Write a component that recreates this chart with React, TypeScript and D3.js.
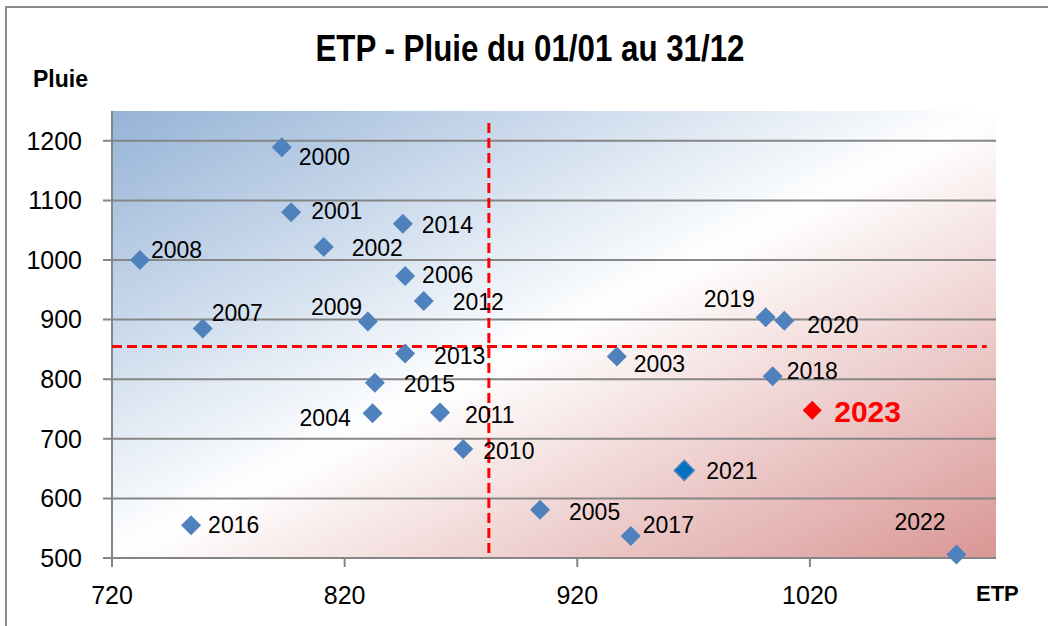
import React from "react";
import * as d3 from "d3";

// ---- Data ----
const years = ["2000","2001","2002","2003","2004","2005","2006","2007","2008","2009","2010","2011","2012","2013","2014","2015","2016","2017","2018","2019","2020","2021","2022"];
const etp = [793, 797, 811, 937, 832, 904, 846, 759, 732, 830, 871, 861, 854, 846, 845, 833, 754, 943, 1004, 1001, 1009, 966, 1083];
const pluie = [1189, 1080, 1022, 838, 743, 581, 973, 885, 1000, 897, 683, 744, 931, 843, 1061, 794, 555, 537, 805, 904, 898, 647, 506];
const highlightYear = "2023";
const highlightEtp = 1021;
const highlightPluie = 748;
const meanEtp = 882;
const meanPluie = 855;
const xTicks = [720, 820, 920, 1020];
const yTicks = [500, 600, 700, 800, 900, 1000, 1100, 1200];

// label offsets (presentation)
const labelDx = [17, 20, 28, 17, -73, 29, 17, 9, 11, -57, 20, 25, 29, 29, 19, 29, 17, 12, 14, -62, 23, 22, -62];
const labelDy = [10, -1, 1, 7, 5, 2, -1, -16, -10, -14, 2, 2, 1, 2, 1, 1, 0, -11, -5, -18, 4, 1, -32];

const W = 1048, H = 626;
const left = 112, right = 996, top = 111, bottom = 558;
const FONT = "'Liberation Sans', Arial, sans-serif";

export default function App() {
  const x = d3.scaleLinear().domain([720, 1100]).range([left, right]);
  const y = d3.scaleLinear().domain([500, 1250]).range([bottom, top]);
  const diamond = (cx: number, cy: number, r: number) =>
    `M${cx},${cy - r}L${cx + r},${cy}L${cx},${cy + r}L${cx - r},${cy}Z`;

  return (
    <svg width={W} height={H} style={{ position: "absolute", left: 0, top: 0, background: "#fff" }}>
      <defs>
        <linearGradient id="bg" x1="0" y1="0" x2="1" y2="1">
          <stop offset="0" stopColor="#95B3D7" />
          <stop offset="0.5" stopColor="#FFFFFF" />
          <stop offset="1" stopColor="#D99694" />
        </linearGradient>
      </defs>
      <rect x={6} y={7} width={1100} height={700} fill="#fff" stroke="#8c8c8c" strokeWidth={2} />
      <text x={530} y={48} dy="0.35em" textAnchor="middle" fontFamily={FONT} fontWeight="bold" fontSize={36} textLength={429} lengthAdjust="spacingAndGlyphs">
        ETP - Pluie du 01/01 au 31/12
      </text>
      <text x={33} y={79} dy="0.35em" fontFamily={FONT} fontWeight="bold" fontSize={23}>Pluie</text>
      <text x={976} y={593} dy="0.35em" fontFamily={FONT} fontWeight="bold" fontSize={22}>ETP</text>

      <rect x={left} y={top} width={right - left} height={bottom - top} fill="url(#bg)" />
      {yTicks.map((t) => (
        <g key={t}>
          <line x1={left - 9} x2={right} y1={y(t)} y2={y(t)} stroke="#868686" strokeWidth={2} />
          <text x={82} y={y(t)} dy="0.35em" textAnchor="end" fontFamily={FONT} fontSize={25}>{t}</text>
        </g>
      ))}
      <line x1={left} x2={left} y1={top} y2={bottom} stroke="#868686" strokeWidth={2} />
      {xTicks.map((t) => (
        <g key={t}>
          <line x1={x(t)} x2={x(t)} y1={bottom} y2={bottom + 9} stroke="#868686" strokeWidth={2} />
          <text x={x(t)} y={595} dy="0.35em" textAnchor="middle" fontFamily={FONT} fontSize={25}>{t}</text>
        </g>
      ))}

      <line x1={x(720)} x2={x(1096)} y1={y(meanPluie)} y2={y(meanPluie)} stroke="#FF0000" strokeWidth={3} strokeDasharray="10 5" />
      <line x1={x(meanEtp)} x2={x(meanEtp)} y1={y(1230)} y2={y(505)} stroke="#FF0000" strokeWidth={3} strokeDasharray="10 5" />

      {years.map((yr, i) => (
        <g key={yr}>
          <path d={diamond(x(etp[i]), y(pluie[i]), 10)} fill={yr === "2021" ? "#0070C0" : "#4F81BD"} stroke={yr === "2021" ? "#4F81BD" : "none"} strokeWidth={1.5} />
          <text x={x(etp[i]) + labelDx[i]} y={y(pluie[i]) + labelDy[i]} dy="0.35em" fontFamily={FONT} fontSize={23} fill="#000">{yr}</text>
        </g>
      ))}
      <path d={diamond(x(highlightEtp), y(highlightPluie), 9.5)} fill="#FF0000" />
      <text x={x(highlightEtp) + 22} y={y(highlightPluie) + 1} dy="0.35em" fontFamily={FONT} fontWeight="bold" fontSize={30} fill="#FF0000">{highlightYear}</text>
    </svg>
  );
}
